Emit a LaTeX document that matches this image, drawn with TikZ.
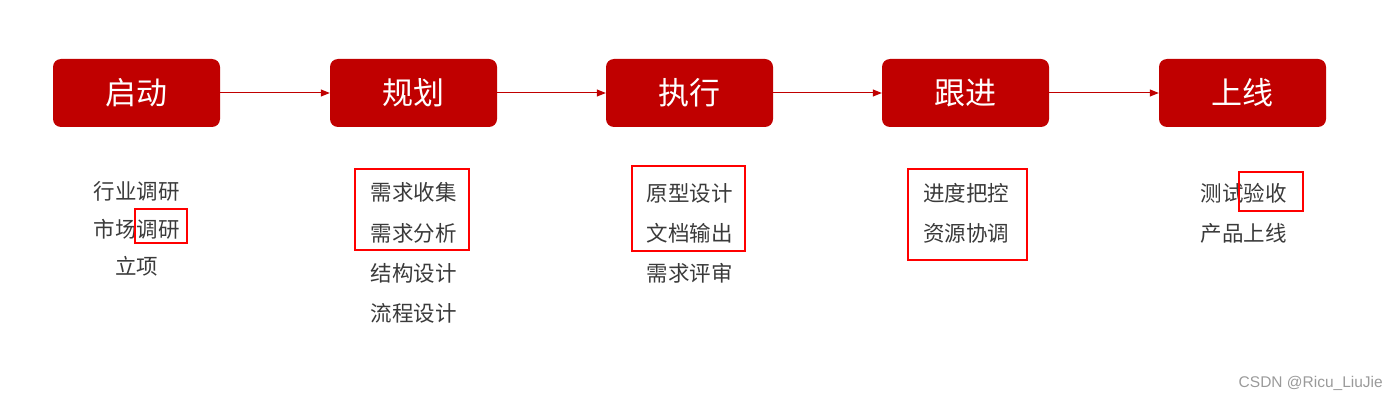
\documentclass[tikz,border=0pt]{standalone}
\usepackage{fontspec}
\setmainfont{Liberation Sans}
\newfontfamily\cjk{Noto Sans CJK SC}
\usetikzlibrary{arrows.meta}
\definecolor{boxred}{HTML}{C00000}
\definecolor{hl}{HTML}{FF0000}
\definecolor{txt}{HTML}{3A3A3A}
\definecolor{wm}{HTML}{9A9A9A}
\begin{document}
\begin{tikzpicture}[x=1pt,y=-1pt,
  stage/.style={rectangle, rounded corners=8pt, fill=boxred, minimum width=167pt, minimum height=68pt, inner sep=0pt, text=white, font=\cjk\fontsize{31}{33}\selectfont},
  item/.style={inner sep=0pt, text=txt, font=\cjk\fontsize{21.5}{23}\selectfont},
  flow/.style={draw=boxred, line width=1pt, -{Triangle[length=9pt,width=7pt]}},
  hlbox/.style={draw=hl, line width=1.3pt}]
\useasboundingbox (0,0) rectangle (1398,401);
\node[stage] (s1) at (136.5,93) {启动};
\node[stage] (s2) at (413.5,93) {规划};
\node[stage] (s3) at (689.5,93) {执行};
\node[stage] (s4) at (965.5,93) {跟进};
\node[stage] (s5) at (1242.5,93) {上线};
\draw[flow] (s1.east) -- (s2.west);
\draw[flow] (s2.east) -- (s3.west);
\draw[flow] (s3.east) -- (s4.west);
\draw[flow] (s4.east) -- (s5.west);
% column 1
\node[item] (a1) at (136.5,191) {行业调研};
\node[item] (a2) at (136.5,229) {市场调研};
\node[item] (a3) at (136.5,266) {立项};
\draw[hlbox] (135,209) rectangle (187,243);
% column 2
\node[item] (b1) at (413.5,192) {需求收集};
\node[item] (b2) at (413.5,233) {需求分析};
\node[item] (b3) at (413.5,273) {结构设计};
\node[item] (b4) at (413.5,313) {流程设计};
\draw[hlbox] (355,169) rectangle (469,250);
% column 3
\node[item] (c1) at (689.5,193) {原型设计};
\node[item] (c2) at (689.5,233) {文档输出};
\node[item] (c3) at (689.5,273) {需求评审};
\draw[hlbox] (632,166) rectangle (745,251);
% column 4
\node[item] (d1) at (966,193) {进度把控};
\node[item] (d2) at (966,233) {资源协调};
\draw[hlbox] (908,169) rectangle (1027,260);
% column 5
\node[item] (e1) at (1243.5,193) {测试验收};
\node[item] (e2) at (1243.5,233) {产品上线};
\draw[hlbox] (1239,172) rectangle (1303,211);
% watermark
\node[text=wm, font=\fontsize{15.5}{17}\selectfont, anchor=east, inner sep=0pt] (w) at (1383,383) {CSDN @Ricu\_LiuJie};
\end{tikzpicture}
\end{document}
